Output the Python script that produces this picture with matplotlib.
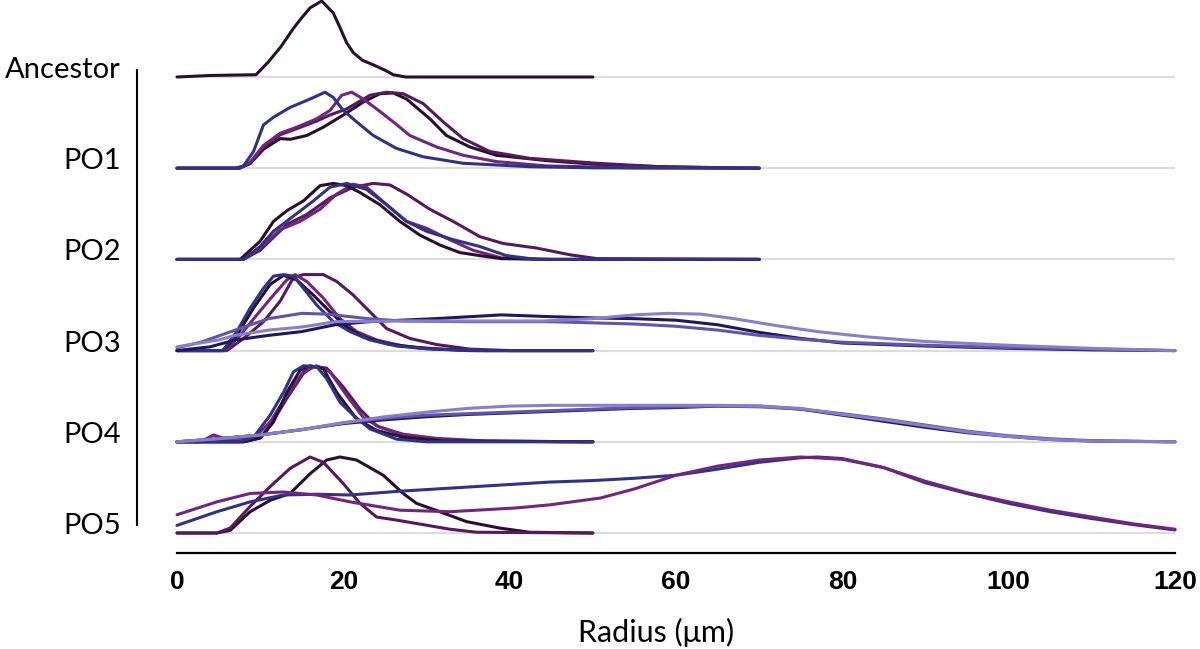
import matplotlib
matplotlib.use("Agg")
import matplotlib.pyplot as plt
from matplotlib import font_manager
from matplotlib.lines import Line2D

# ---------------- data (relative density, peak = 1) ----------------
rows = ["Ancestor", "PO1", "PO2", "PO3", "PO4", "PO5"]
xticks = [0, 20, 40, 60, 80, 100, 120]
xlabel = "Radius (μm)"

anc_x = [0, 4, 9.5, 11, 12.5, 14, 15, 16, 17.4, 18.8, 19.6, 20.4, 21.2, 22.3, 23.6, 25, 26, 27.5, 50]
anc_y = [0, 0.02, 0.03, 0.2, 0.4, 0.64, 0.78, 0.91, 1.0, 0.84, 0.65, 0.45, 0.32, 0.22, 0.16, 0.09, 0.03, 0, 0]

po1_navy_x = [0, 7, 8, 9.2, 10.4, 11.6, 13.6, 16.0, 17.8, 18.8, 20, 21.6, 23.6, 26.4, 29.6, 34.4, 42.4, 50, 70]
po1_navy_y = [0, 0, 0.03, 0.22, 0.57, 0.67, 0.80, 0.91, 1.0, 0.93, 0.76, 0.61, 0.43, 0.26, 0.15, 0.065, 0.02, 0.005, 0]
po1_purple_x = [0, 7.5, 8.8, 10.4, 12.4, 14.4, 16.8, 18.4, 19.8, 21.0, 22.4, 24.0, 26.0, 28.0, 31.2, 34.4, 38.4, 44.4, 55, 70]
po1_purple_y = [0, 0, 0.08, 0.30, 0.46, 0.54, 0.65, 0.76, 0.96, 1.0, 0.91, 0.78, 0.61, 0.43, 0.28, 0.17, 0.087, 0.03, 0.005, 0]
po1_dark_x = [0, 7.5, 8.8, 10.4, 12.4, 13.6, 15.6, 17.6, 20.0, 22.4, 24.4, 26.0, 27.6, 30.4, 32.4, 35.2, 38.4, 44.4, 50.5, 58, 65, 70]
po1_dark_y = [0, 0, 0.06, 0.25, 0.39, 0.38, 0.43, 0.54, 0.70, 0.87, 0.98, 0.99, 0.91, 0.65, 0.43, 0.28, 0.17, 0.10, 0.05, 0.02, 0.005, 0]
po1_dpurple_x = [0, 7.5, 8.8, 10.4, 12.4, 14.4, 16.8, 18.4, 20.4, 23.2, 25.2, 27.2, 29.6, 32.0, 34.4, 37.6, 42.4, 50.5, 58, 70]
po1_dpurple_y = [0, 0, 0.07, 0.28, 0.44, 0.52, 0.62, 0.70, 0.78, 0.96, 1.0, 0.98, 0.85, 0.61, 0.39, 0.22, 0.13, 0.065, 0.02, 0]

po2_dark_x = [0, 7.6, 10, 11.6, 13.2, 15.2, 17.2, 18.8, 20.4, 22.0, 24.4, 26.8, 29.2, 31.6, 34.0, 36.4, 39, 45, 70]
po2_dark_y = [0, 0, 0.24, 0.50, 0.64, 0.77, 0.97, 1.0, 0.97, 0.88, 0.72, 0.50, 0.32, 0.19, 0.09, 0.05, 0.01, 0, 0]
po2_navy_x = [0, 8, 10, 11.6, 14.0, 16.4, 18.4, 20.4, 22.8, 25.2, 27.6, 30.0, 33.2, 36.4, 39.6, 43.2, 70]
po2_navy_y = [0, 0, 0.17, 0.37, 0.57, 0.77, 0.95, 1.0, 0.92, 0.72, 0.50, 0.37, 0.26, 0.17, 0.05, 0, 0]
po2_purple_x = [0, 8, 10, 12.4, 14.8, 17.2, 19.2, 21.2, 22.8, 25.2, 27.6, 30, 32.4, 35.6, 39, 45, 70]
po2_purple_y = [0, 0, 0.15, 0.39, 0.50, 0.66, 0.86, 0.99, 0.95, 0.72, 0.50, 0.41, 0.28, 0.12, 0.02, 0, 0]
po2_dpurple_x = [0, 8, 10, 13.2, 15.6, 18.4, 21.2, 23.6, 25.6, 27.6, 30.4, 33.2, 36.4, 39.2, 43.2, 47.3, 50.5, 70]
po2_dpurple_y = [0, 0, 0.12, 0.46, 0.59, 0.81, 0.95, 1.0, 0.98, 0.86, 0.66, 0.50, 0.30, 0.21, 0.15, 0.06, 0.01, 0]

po3_navy_x = [0, 5.5, 7.2, 8.8, 10.4, 11.6, 12.8, 14.0, 15.2, 16.8, 18.8, 20.8, 23.2, 26.4, 30.4, 36, 50]
po3_navy_y = [0, 0, 0.25, 0.56, 0.82, 0.98, 1.0, 0.98, 0.82, 0.60, 0.38, 0.25, 0.14, 0.06, 0.02, 0, 0]
po3_dark_x = [0, 5.5, 7.2, 9.2, 11.2, 12.8, 14.4, 16.4, 18.4, 20.4, 22.4, 25.2, 29.2, 35, 50]
po3_dark_y = [0, 0, 0.20, 0.56, 0.87, 0.99, 0.93, 0.73, 0.51, 0.31, 0.18, 0.09, 0.035, 0, 0]
po3_purple_x = [0, 5.8, 7.6, 9.6, 11.6, 13.2, 14.2, 15.6, 17.6, 19.6, 21.6, 24, 27.2, 31.2, 37, 50]
po3_purple_y = [0, 0, 0.20, 0.47, 0.73, 0.93, 1.0, 0.91, 0.69, 0.42, 0.25, 0.14, 0.06, 0.02, 0, 0]
po3_dpurple_x = [0, 6, 8, 10.4, 12.4, 14.0, 15.2, 17.6, 19.2, 21.2, 23.2, 25.2, 28.0, 31.2, 35.2, 40, 50]
po3_dpurple_y = [0, 0, 0.16, 0.38, 0.65, 0.96, 1.0, 1.0, 0.91, 0.73, 0.51, 0.29, 0.16, 0.08, 0.02, 0, 0]
po3_lav_x = [0, 3, 7, 11, 15, 18, 23, 27, 35, 45, 55, 60, 65, 70, 75, 80, 90, 100, 110, 120]
po3_lav_y = [0.035, 0.115, 0.27, 0.42, 0.49, 0.48, 0.42, 0.39, 0.38, 0.38, 0.35, 0.32, 0.27, 0.20, 0.15, 0.11, 0.07, 0.04, 0.02, 0.0]
po3_dnavy_x = [0, 4, 7, 11, 15, 19, 23, 31, 39, 44, 50, 55, 60, 65, 70, 75, 80, 90, 100, 110, 120]
po3_dnavy_y = [0.0, 0.05, 0.14, 0.20, 0.25, 0.34, 0.38, 0.42, 0.47, 0.45, 0.43, 0.42, 0.40, 0.34, 0.24, 0.16, 0.10, 0.06, 0.03, 0.01, 0]
po3_light_x = [0, 5, 7, 11, 15, 19, 27, 44, 50, 55, 59, 63, 67, 72, 77, 83, 90, 100, 110, 120]
po3_light_y = [0.05, 0.14, 0.20, 0.27, 0.31, 0.38, 0.39, 0.39, 0.42, 0.47, 0.49, 0.48, 0.42, 0.33, 0.25, 0.18, 0.12, 0.07, 0.03, 0]

po4_navy_x = [0, 7.5, 9.2, 11.2, 12.8, 14.0, 15.2, 16.8, 18.0, 19.6, 21.2, 23.2, 26.4, 30, 50]
po4_navy_y = [0, 0, 0.06, 0.35, 0.65, 0.92, 1.0, 0.99, 0.83, 0.52, 0.35, 0.17, 0.035, 0, 0]
po4_purple_x = [0, 2.8, 4.4, 5.6, 9.2, 11.2, 13.2, 15.2, 16.8, 18.4, 20.4, 22.4, 24.4, 27.2, 31.2, 37.2, 50]
po4_purple_y = [0, 0, 0.09, 0.045, 0.045, 0.26, 0.61, 0.92, 1.0, 0.92, 0.61, 0.32, 0.19, 0.10, 0.045, 0.01, 0]
po4_dark_x = [0, 8, 10, 11.6, 13.2, 14.8, 16.0, 17.6, 19.2, 21.6, 24, 27.2, 32, 50]
po4_dark_y = [0, 0, 0.05, 0.26, 0.65, 0.94, 1.0, 0.96, 0.65, 0.30, 0.15, 0.06, 0.01, 0]
po4_dpurple_x = [0, 8, 10, 11.2, 13.2, 15.2, 16.4, 18, 20, 22, 24, 27.2, 31.2, 36, 50]
po4_dpurple_y = [0, 0, 0.05, 0.21, 0.57, 0.90, 0.99, 0.97, 0.72, 0.43, 0.21, 0.09, 0.035, 0.01, 0]
po4_broad_x = [0, 5, 10, 15, 20, 25, 30, 35, 40, 45, 50, 55, 60, 65, 70, 75, 80, 85, 90, 95, 100, 105, 110, 120]
po4_light_y = [0, 0.04, 0.09, 0.16, 0.25, 0.33, 0.39, 0.44, 0.47, 0.48, 0.48, 0.48, 0.48, 0.48, 0.47, 0.44, 0.36, 0.29, 0.21, 0.13, 0.07, 0.03, 0.01, 0]
po4_lav_y = [0, 0.04, 0.09, 0.16, 0.25, 0.31, 0.35, 0.37, 0.39, 0.41, 0.43, 0.45, 0.46, 0.47, 0.46, 0.43, 0.37, 0.30, 0.22, 0.14, 0.08, 0.04, 0.015, 0]
po4_dnavy_y = [0, 0.04, 0.09, 0.16, 0.24, 0.29, 0.33, 0.36, 0.38, 0.40, 0.42, 0.44, 0.45, 0.47, 0.47, 0.43, 0.35, 0.27, 0.19, 0.12, 0.07, 0.03, 0.01, 0]

po5_purple_x = [0, 4.8, 6.4, 8.8, 11.2, 13.6, 16.0, 17.6, 20.0, 22.0, 24.0, 26.4, 29.6, 32.8, 36, 50]
po5_purple_y = [0, 0, 0.065, 0.35, 0.61, 0.85, 1.0, 0.93, 0.65, 0.39, 0.21, 0.17, 0.11, 0.05, 0.01, 0]
po5_dark_x = [0, 4.8, 6.4, 8.8, 11.2, 13.6, 16.0, 18.0, 19.6, 21.6, 24.8, 27.2, 28.8, 31.6, 34.8, 38.8, 42.4, 50]
po5_dark_y = [0, 0, 0.035, 0.28, 0.43, 0.52, 0.78, 0.96, 1.0, 0.96, 0.76, 0.52, 0.39, 0.28, 0.15, 0.065, 0.01, 0]
po5_bpurple_x = [0, 4.8, 8.8, 12.8, 16.8, 20.8, 26.8, 32.8, 40.8, 44.8, 50.9, 55, 60, 65, 70, 75, 80, 85, 90, 95, 100, 105, 110, 115, 120]
po5_bpurple_y = [0.24, 0.41, 0.52, 0.54, 0.50, 0.41, 0.30, 0.28, 0.33, 0.37, 0.46, 0.58, 0.76, 0.88, 0.96, 1.0, 0.97, 0.86, 0.68, 0.53, 0.41, 0.30, 0.21, 0.12, 0.05]
po5_bnavy_x = [0, 4.8, 8.8, 12.8, 16.8, 20.8, 26.8, 32.8, 38.8, 44.8, 50, 55, 60, 65, 70, 75, 77, 80, 85, 90, 95, 100, 105, 110, 115, 120]
po5_bnavy_y = [0.10, 0.28, 0.41, 0.50, 0.51, 0.50, 0.55, 0.59, 0.63, 0.67, 0.69, 0.72, 0.76, 0.84, 0.93, 0.99, 1.0, 0.98, 0.86, 0.66, 0.52, 0.39, 0.28, 0.19, 0.11, 0.04]

# ---------------- styling ----------------
C_DARK = "#2b0d30"
C_PURPLE = "#72257c"
C_DPURPLE = "#56195c"
C_NAVY = "#2f3386"
C_DNAVY = "#1e1860"
C_LAV = "#5e56aa"
C_LIGHT = "#8680c9"

series = {
    "Ancestor": [(anc_x, anc_y, C_DARK)],
    "PO1": [(po1_dark_x, po1_dark_y, C_DARK), (po1_dpurple_x, po1_dpurple_y, C_DPURPLE),
            (po1_purple_x, po1_purple_y, C_PURPLE), (po1_navy_x, po1_navy_y, C_NAVY)],
    "PO2": [(po2_dpurple_x, po2_dpurple_y, C_DPURPLE), (po2_purple_x, po2_purple_y, C_PURPLE),
            (po2_dark_x, po2_dark_y, C_DARK), (po2_navy_x, po2_navy_y, C_NAVY)],
    "PO3": [(po3_dpurple_x, po3_dpurple_y, C_DPURPLE), (po3_purple_x, po3_purple_y, C_PURPLE),
            (po3_dark_x, po3_dark_y, C_DARK), (po3_navy_x, po3_navy_y, C_NAVY),
            (po3_dnavy_x, po3_dnavy_y, C_DNAVY), (po3_lav_x, po3_lav_y, C_LAV),
            (po3_light_x, po3_light_y, C_LIGHT)],
    "PO4": [(po4_dpurple_x, po4_dpurple_y, C_DPURPLE), (po4_purple_x, po4_purple_y, C_PURPLE),
            (po4_dark_x, po4_dark_y, C_DARK), (po4_navy_x, po4_navy_y, C_NAVY),
            (po4_broad_x, po4_dnavy_y, C_DNAVY), (po4_broad_x, po4_lav_y, C_LAV),
            (po4_broad_x, po4_light_y, C_LIGHT)],
    "PO5": [(po5_dark_x, po5_dark_y, C_DARK), (po5_purple_x, po5_purple_y, C_DPURPLE),
            (po5_bnavy_x, po5_bnavy_y, C_NAVY), (po5_bpurple_x, po5_bpurple_y, C_PURPLE)],
}

available = {f.name for f in font_manager.fontManager.ttflist}
def pick(*names):
    for n in names:
        if n in available:
            return n
    return "DejaVu Sans"

TICK_FONT = pick("Liberation Sans Narrow", "Liberation Sans")
LABEL_FONT = pick("Lato", "Noto Sans")

W, H = 1200, 649
fig = plt.figure(figsize=(W / 100, H / 100), dpi=100)
x0_px, x1_px, y_bottom_px = 177, 1175, 553
ax = fig.add_axes([x0_px / W, (H - y_bottom_px) / H, (x1_px - x0_px) / W, y_bottom_px / H])

row_step = 1.0                  # one row = 1 unit (91.2 px)
ymax = y_bottom_px / 91.2       # axes height in row units
base0 = 20 / 91.2               # PO5 baseline above x-axis
peak_h = 76 / 91.2              # drawn height of a unit density

ax.set_xlim(0, 120)
ax.set_ylim(0, ymax)

n = len(rows)
for i, name in enumerate(rows):
    base = base0 + (n - 1 - i) * row_step
    ax.plot([0, 120], [base, base], color="#dcdcdc", lw=1.6, zorder=1, solid_capstyle="butt")
    for xs, ys, col in series[name]:
        ax.plot(xs, [base + v * peak_h for v in ys], color=col, lw=2.2, zorder=3,
                clip_on=False, solid_joinstyle="round", solid_capstyle="round")
    ypx = y_bottom_px - base * 91.2 - 7
    fig.text(121 / W, 1 - ypx / H, name, ha="right", va="center",
             fontsize=21, family=LABEL_FONT, color="black")

for s in ["top", "right", "left"]:
    ax.spines[s].set_visible(False)
ax.spines["bottom"].set_linewidth(1.6)
ax.spines["bottom"].set_color("black")
ax.set_yticks([])
ax.set_xticks(xticks)
ax.set_xticklabels([str(t) for t in xticks], fontsize=19, family=TICK_FONT, fontweight="bold")
ax.tick_params(axis="x", length=0, pad=12)

fig.text(656 / W, 1 - 632 / H, xlabel, ha="center", va="center", fontsize=22,
         family=LABEL_FONT, color="black")

fig.add_artist(Line2D([137 / W, 137 / W], [1 - 70 / H, 1 - 525 / H], color="black", lw=1.5,
                      transform=fig.transFigure))

fig.savefig("out.png", dpi=100)
